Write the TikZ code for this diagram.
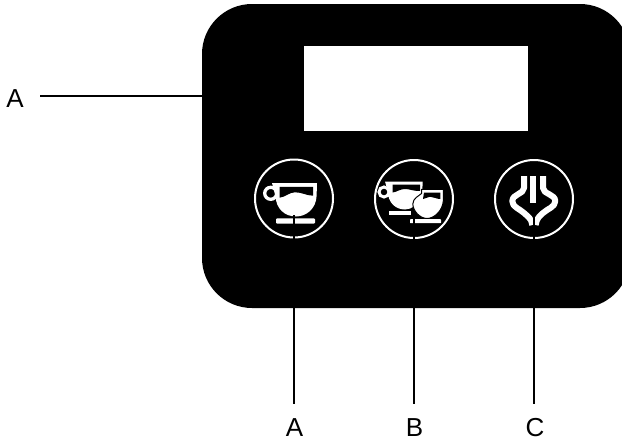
\documentclass[tikz,border=0pt]{standalone}
\usepackage{fontspec}
\setmainfont{Liberation Sans}
\tikzset{
  every picture/.style={x=1pt,y=-1pt},
  panelbox/.style={fill=black,draw=none,rounded corners=50pt},
  screen/.style={fill=white,draw=none,minimum width=224pt,minimum height=85pt,inner sep=0pt},
  ring/.style={draw=white,line width=2pt,fill=none},
  leader/.style={draw=black,line width=1.5pt},
  glyph/.style={fill=white,draw=none},
  lbl/.style={font=\fontsize{26}{26}\selectfont,text=black,inner sep=0pt,anchor=base},
  pw/.style={draw=white,line width=6pt,line join=round,fill=none},
  pwbar/.style={draw=white,line width=5.4pt,fill=none}
}
\begin{document}
\begin{tikzpicture}
\useasboundingbox (0,0) rectangle (622,442);
\begin{scope}
\clip (0,0) rectangle (622,442);
\draw[panelbox] (202,4) rectangle (630,308);
\end{scope}
\node[screen] (display) at (416,88.5) {};
% rings
\node[ring,circle,minimum size=78pt,inner sep=0pt] (b1) at (294,198.5) {};
\node[ring,circle,minimum size=78pt,inner sep=0pt] (b2) at (414,199) {};
\node[ring,circle,minimum size=78pt,inner sep=0pt] (b3) at (534,199) {};
% cup 1
\draw[white,line width=3.3pt] (270.7,193.3) circle (6);
\fill[glyph] (272,183) -- (317,183) -- (316.6,196) .. controls (316,209) and (306,216.5) .. (296,216.5)
  .. controls (285,216.5) and (276,209) .. (275.5,196) -- cycle;
\fill[black] (279.5,186.8) -- (313,186.8) -- (313,195.7) .. controls (306,195.5) and (302,192.3) .. (295,192.3)
  .. controls (289,192.3) and (286,197) .. (279.5,197.7) -- cycle;
\fill[glyph,rounded corners=1pt] (276,218.3) rectangle (315,223.5);
% cups 2: left
\draw[white,line width=3pt] (384,192) circle (5);
\fill[glyph] (385,181.5) -- (422.5,181.5) -- (422.5,186) -- (421.5,200) .. controls (417,204) and (412,209.5) .. (405,209.5)
  .. controls (395,209.5) and (388,202) .. (388,192) -- cycle;
\fill[black] (392.5,184.7) -- (420,184.7) -- (420,191) .. controls (412,191) and (410,189) .. (405,189)
  .. controls (400,189) and (397,192) .. (392.5,192.5) -- cycle;
\fill[glyph] (389,210.7) rectangle (410.7,215);
% cups 2: right
\fill[glyph,draw=black,line width=1pt] (421.5,189.3) -- (443.3,189.3) -- (443.3,201) .. controls (442.5,211) and (434,218.5) .. (427,218.5)
  .. controls (420,218.5) and (413,211) .. (412.8,204) .. controls (413,198) and (419,196) .. (421.5,193.5) -- cycle;
\fill[black] (424,192.6) -- (440.3,192.6) -- (440.3,199) .. controls (436,199) and (434,196.8) .. (430,196.8)
  .. controls (428,196.8) and (426,198.5) .. (423,199) -- cycle;
\fill[glyph,rounded corners=.6pt] (410,219.2) rectangle (441,223.2);
% power icon
\draw[pw] (524,176) -- (524,188) .. controls (524,194) and (512.5,194) .. (512.3,201)
  .. controls (512,207) and (520,209) .. (524,213) .. controls (527,216) and (531.5,218) .. (532.4,225);
\draw[pw] (543,176) -- (543,188) .. controls (543,194) and (555,194) .. (555.3,201)
  .. controls (555.5,207) and (547,209) .. (543,213) .. controls (540,216) and (536.5,218) .. (535.6,225);
\draw[pwbar] (533,176) -- (533,203);
% labels
\node[lbl] (la0) at (15,107) {A};
\node[lbl] (la1) at (294.5,436) {A};
\node[lbl] (lb) at (414.5,436) {B};
\node[lbl] (lc) at (535,436) {C};
% connector ends
\coordinate (s0) at (40,96);
\coordinate (e0) at (204,96);
\coordinate (s1) at (294,215);
\coordinate (e1) at (294,404);
\coordinate (s2) at (414,215);
\coordinate (e2) at (414,404);
\coordinate (s3) at (534,215);
\coordinate (e3) at (534,404);
\draw[leader] (s0) -- (e0);
\draw[leader] (s1) -- (e1);
\draw[leader] (s2) -- (e2);
\draw[leader] (s3) -- (e3);
\end{tikzpicture}
\end{document}
